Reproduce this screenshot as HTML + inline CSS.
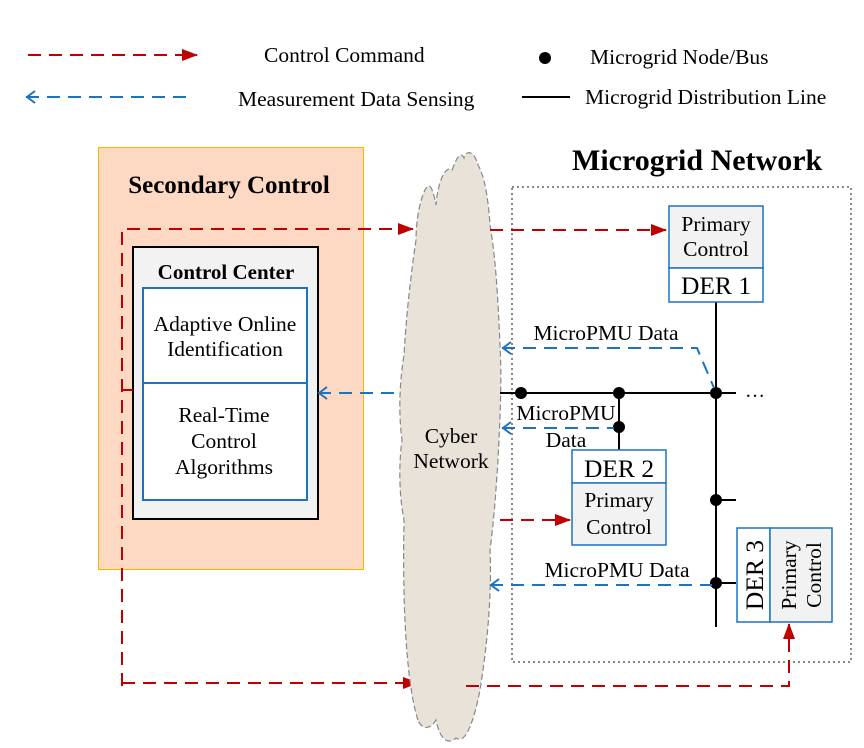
<!DOCTYPE html>
<html><head><meta charset="utf-8"><style>
html,body{margin:0;padding:0;background:#fff;}
svg{display:block;}
text{font-family:"Liberation Serif",serif;fill:#000;}
</style></head><body>
<svg width="864" height="748" viewBox="0 0 864 748" xmlns="http://www.w3.org/2000/svg">
<defs>
<marker id="rb" markerWidth="16" markerHeight="12" refX="15" refY="6" orient="auto" markerUnits="userSpaceOnUse"><path d="M0,0 L16,6 L0,12 Z" fill="#c00000"/></marker>
<marker id="ba" markerWidth="12" markerHeight="14" refX="1" refY="7" orient="auto" markerUnits="userSpaceOnUse"><path d="M10,1 L2,7 L10,13" fill="none" stroke="#1e73be" stroke-width="2"/></marker>
</defs>

<!-- Legend -->
<line x1="28" y1="55" x2="197" y2="55" stroke="#c00000" stroke-width="2" stroke-dasharray="13,8" marker-end="url(#rb)"/>
<text x="264" y="62" font-size="21.5">Control Command</text>
<line x1="26" y1="97" x2="190" y2="97" stroke="#1e73be" stroke-width="2" stroke-dasharray="13,8" marker-start="url(#ba)"/>
<text x="238" y="106" font-size="21.5">Measurement Data Sensing</text>
<circle cx="545" cy="58" r="6" fill="#000"/>
<text x="590" y="64" font-size="21.5">Microgrid Node/Bus</text>
<line x1="522" y1="97" x2="570" y2="97" stroke="#000" stroke-width="2"/>
<text x="585" y="104" font-size="21.5">Microgrid Distribution Line</text>

<!-- Secondary control -->
<rect x="98.5" y="147.5" width="265" height="422" fill="#fdd9c3" stroke="#f5b800" stroke-width="1"/>
<text x="229" y="193" font-size="25" font-weight="bold" text-anchor="middle">Secondary Control</text>
<rect x="133" y="247" width="185" height="272" fill="#f2f2f2" stroke="#000" stroke-width="2"/>
<text x="226" y="279" font-size="21" font-weight="bold" text-anchor="middle">Control Center</text>
<rect x="143" y="288" width="164" height="95" fill="#fff" stroke="#1e73be" stroke-width="2"/>
<rect x="143" y="383" width="164" height="117" fill="#fff" stroke="#1e73be" stroke-width="2"/>
<text x="225" y="331" font-size="21.5" text-anchor="middle">Adaptive Online</text>
<text x="225" y="356" font-size="21.5" text-anchor="middle">Identification</text>
<text x="224" y="422" font-size="21.5" text-anchor="middle">Real-Time</text>
<text x="224" y="448" font-size="21.5" text-anchor="middle">Control</text>
<text x="224" y="474" font-size="21.5" text-anchor="middle">Algorithms</text>

<!-- red loop -->
<path d="M122,686 L122,229 L413,229" fill="none" stroke="#c00000" stroke-width="2" stroke-dasharray="13,8" marker-end="url(#rb)"/>
<path d="M122,390 L133,390" stroke="#c00000" stroke-width="2"/>
<path d="M122,683 L418,683" fill="none" stroke="#c00000" stroke-width="2" stroke-dasharray="13,8" marker-end="url(#rb)"/>

<!-- Microgrid network box -->
<rect x="512" y="187" width="339" height="475" fill="none" stroke="#888" stroke-width="2" stroke-dasharray="2,3"/>
<text x="572" y="170" font-size="30" font-weight="bold">Microgrid Network</text>

<!-- blue from cloud to control center -->
<line x1="318" y1="393" x2="405" y2="393" stroke="#1e73be" stroke-width="2" stroke-dasharray="13,8" marker-start="url(#ba)"/>

<!-- Cloud -->
<path d="M418,720 C408,690 402,620 404,520 C400,500 398,470 402,440 C398,410 400,380 404,355 C406,320 410,280 416,240 C416,220 420,200 425,190 C430,180 433,190 436,205 C438,180 446,165 452,170 C456,160 460,150 464,158 C466,150 474,150 478,165 C484,175 488,195 490,225 C496,260 498,300 500,345 C502,380 500,420 498,460 C496,490 494,520 490,550 C492,590 488,640 480,690 C474,720 466,745 456,738 C448,745 440,740 436,720 C430,730 422,730 418,720 Z" fill="#e8e2d9" stroke="#888" stroke-width="1.2" stroke-dasharray="6,3"/>
<text x="451" y="443" font-size="21.5" text-anchor="middle">Cyber</text>
<text x="451" y="468" font-size="21.5" text-anchor="middle">Network</text>

<!-- top red -->
<line x1="490" y1="230" x2="666" y2="230" stroke="#c00000" stroke-width="2" stroke-dasharray="13,8" marker-end="url(#rb)"/>

<!-- distribution lines -->
<line x1="500" y1="393" x2="736" y2="393" stroke="#000" stroke-width="2"/>
<line x1="716" y1="302" x2="716" y2="627" stroke="#000" stroke-width="2"/>
<line x1="619" y1="393" x2="619" y2="450" stroke="#000" stroke-width="2"/>
<line x1="716" y1="500" x2="736" y2="500" stroke="#000" stroke-width="2"/>
<line x1="716" y1="583" x2="736" y2="583" stroke="#000" stroke-width="2"/>
<text x="745" y="397" font-size="20">…</text>
<circle cx="521" cy="393" r="6" fill="#000"/>
<circle cx="619" cy="393" r="6" fill="#000"/>
<circle cx="716" cy="393" r="6" fill="#000"/>
<circle cx="619" cy="427" r="6" fill="#000"/>
<circle cx="716" cy="500" r="6" fill="#000"/>
<circle cx="716" cy="583" r="6" fill="#000"/>

<!-- DER1 -->
<rect x="669" y="206" width="94" height="62" fill="#f2f2f2" stroke="#1e73be" stroke-width="1.5"/>
<rect x="669" y="268" width="94" height="34" fill="#fff" stroke="#1e73be" stroke-width="1.5"/>
<text x="716" y="231" font-size="21.5" text-anchor="middle">Primary</text>
<text x="716" y="256" font-size="21.5" text-anchor="middle">Control</text>
<text x="716" y="294" font-size="25.5" text-anchor="middle">DER 1</text>

<!-- DER2 -->
<rect x="572" y="450" width="94" height="33" fill="#fff" stroke="#1e73be" stroke-width="1.5"/>
<rect x="572" y="483" width="94" height="62" fill="#f2f2f2" stroke="#1e73be" stroke-width="1.5"/>
<text x="619" y="477" font-size="25.5" text-anchor="middle">DER 2</text>
<text x="619" y="507" font-size="21.5" text-anchor="middle">Primary</text>
<text x="619" y="534" font-size="21.5" text-anchor="middle">Control</text>
<line x1="500" y1="520" x2="570" y2="520" stroke="#c00000" stroke-width="2" stroke-dasharray="13,8" marker-end="url(#rb)"/>

<!-- DER3 -->
<rect x="737" y="528" width="33" height="94" fill="#fff" stroke="#1e73be" stroke-width="1.5"/>
<rect x="770" y="528" width="62" height="94" fill="#f2f2f2" stroke="#1e73be" stroke-width="1.5"/>
<text transform="translate(763,575) rotate(-90)" font-size="25.5" text-anchor="middle">DER 3</text>
<text transform="translate(796,575) rotate(-90)" font-size="21.5" text-anchor="middle">Primary</text>
<text transform="translate(821,575) rotate(-90)" font-size="21.5" text-anchor="middle">Control</text>

<!-- blue MicroPMU -->
<path d="M502,348 L697,348 L714,388" fill="none" stroke="#1e73be" stroke-width="2" stroke-dasharray="13,8" marker-start="url(#ba)"/>
<text x="606" y="340" font-size="21.5" text-anchor="middle">MicroPMU Data</text>
<line x1="502" y1="428" x2="614" y2="428" stroke="#1e73be" stroke-width="2" stroke-dasharray="13,8" marker-start="url(#ba)"/>
<text x="566" y="420" font-size="21.5" text-anchor="middle">MicroPMU</text>
<text x="566" y="447" font-size="21.5" text-anchor="middle">Data</text>
<line x1="490" y1="585" x2="712" y2="585" stroke="#1e73be" stroke-width="2" stroke-dasharray="13,8" marker-start="url(#ba)"/>
<text x="617" y="577" font-size="21.5" text-anchor="middle">MicroPMU Data</text>

<!-- bottom red -->
<path d="M466,686 L789,686 L789,624" fill="none" stroke="#c00000" stroke-width="2" stroke-dasharray="13,8" marker-end="url(#rb)"/>
</svg>
</body></html>
